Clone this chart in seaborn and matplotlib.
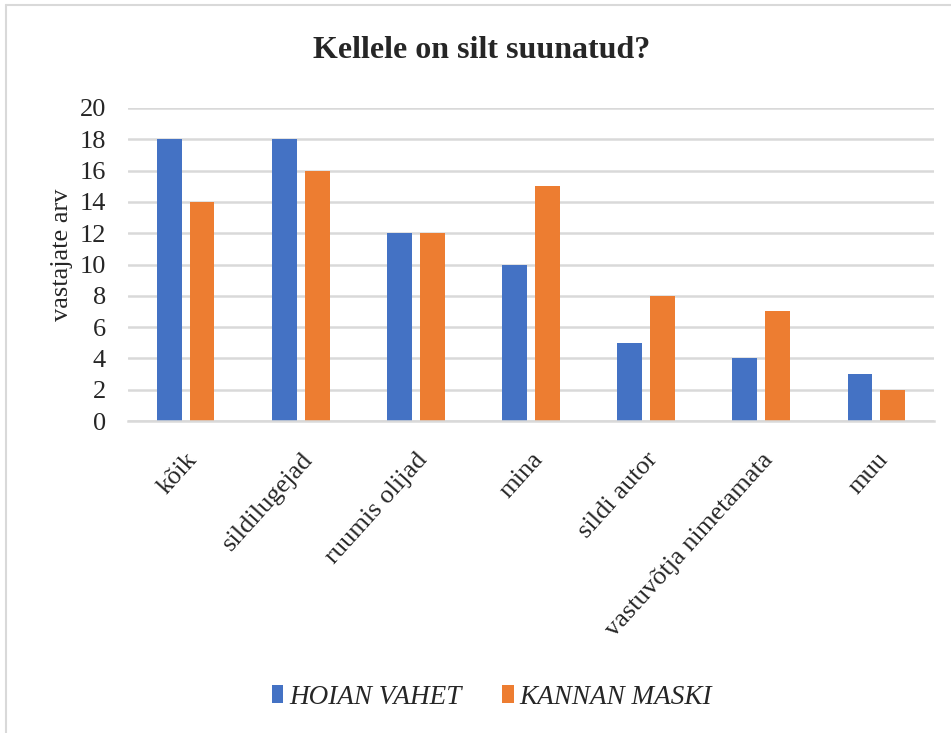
import matplotlib
matplotlib.use("Agg")
import matplotlib.pyplot as plt
import seaborn as sns
import pandas as pd
from matplotlib.lines import Line2D
from matplotlib.patches import Patch

categories = ["kõik", "sildilugejad", "ruumis olijad", "mina", "sildi autor",
              "vastuvõtja nimetamata", "muu"]
series_names = ["HOIAN VAHET", "KANNAN MASKI"]
hoian_vahet = [18, 18, 12, 10, 5, 4, 3]
kannan_maski = [14, 16, 12, 15, 8, 7, 2]
y_ticks = [0, 2, 4, 6, 8, 10, 12, 14, 16, 18, 20]
colors = ["#4472C4", "#ED7D31"]

df = pd.DataFrame({
    "kategooria": categories * 2,
    "vastajate arv": hoian_vahet + kannan_maski,
    "seeria": [series_names[0]] * len(categories) + [series_names[1]] * len(categories),
})

sns.set_theme(style="white")
plt.rcParams["font.family"] = ["Liberation Serif", "DejaVu Serif"]

fig = plt.figure(figsize=(9.51, 7.33), dpi=100)
ax = fig.add_axes([128 / 951, 312 / 733, 806 / 951, 313 / 733])

sns.barplot(data=df, x="kategooria", y="vastajate arv", hue="seeria",
            palette=colors, width=0.57, gap=0.24, ax=ax, legend=False,
            saturation=1, edgecolor="none")

ax.set_ylim(0, 20)
ax.set_xlim(-0.5, len(categories) - 0.5)
ax.set_yticks(y_ticks)
ax.set_yticklabels([str(t) for t in y_ticks], fontsize=19)
ax.yaxis.grid(True, color="#d9d9d9", linewidth=1.8)
ax.set_axisbelow(True)
for s in ["top", "right", "left"]:
    ax.spines[s].set_visible(False)
ax.spines["bottom"].set_color("#d9d9d9")
ax.spines["bottom"].set_linewidth(1.8)
ax.tick_params(axis="y", length=0, pad=16)
ax.tick_params(axis="x", length=0, pad=20)
ax.set_xticks(range(len(categories)))
ax.set_xticklabels(categories, rotation=48, ha="right", rotation_mode="anchor",
                   fontsize=19)
ax.set_xlabel("")
ax.set_ylabel("vastajate arv", fontsize=19)
ax.yaxis.set_label_coords((73 - 128) / 806, (421 - 255) / 313)

fig.text(482 / 951, 1 - 50 / 733, "Kellele on silt suunatud?", ha="center",
         va="center", fontsize=23, fontweight="bold")

handles = [Patch(facecolor=c, edgecolor="none") for c in colors]
leg = fig.legend(handles, series_names, loc="center", bbox_to_anchor=(492 / 951, 1 - 697 / 733),
                 ncol=2, frameon=False, handlelength=0.42, handleheight=0.6,
                 handletextpad=0.22, columnspacing=1.5,
                 prop={"family": "Liberation Serif", "style": "italic", "size": 19.5})

# chart border (left and top visible)
fig.add_artist(Line2D([6 / 951, 6 / 951], [0, 1 - 5 / 733], color="#d9d9d9", linewidth=1.5,
                      transform=fig.transFigure))
fig.add_artist(Line2D([6 / 951, 1], [1 - 5 / 733, 1 - 5 / 733], color="#d9d9d9", linewidth=1.5,
                      transform=fig.transFigure))

fig.savefig("out.png", dpi=100)
